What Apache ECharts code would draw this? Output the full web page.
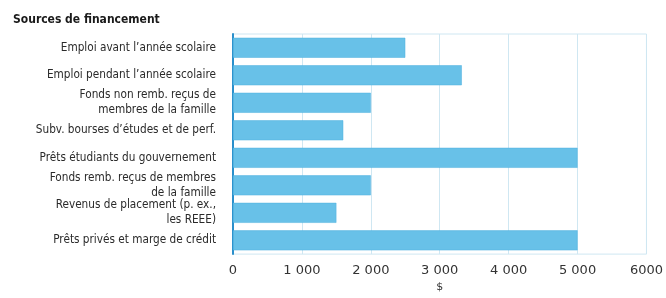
<!DOCTYPE html>
<html><head><meta charset="utf-8">
<script src="https://cdn.jsdelivr.net/npm/echarts@6/dist/echarts.min.js"></script>
<style>html,body{margin:0;padding:0;background:#fff}#c{width:666px;height:298px}</style>
</head><body><div id="c"></div>
<script>
const categories = [
  "Emploi avant l\u2019année scolaire",
  "Emploi pendant l\u2019année scolaire",
  "Fonds non remb. reçus de\nmembres de la famille",
  "Subv. bourses d\u2019études et de perf.",
  "Prêts étudiants du gouvernement",
  "Fonds remb. reçus de membres\nde la famille",
  "Revenus de placement (p. ex.,\nles REEE)",
  "Prêts privés et marge de crédit"
];
const values = [2500, 3320, 2000, 1600, 5000, 2000, 1500, 5000];
const tickLabels = ["0", "1 000", "2 000", "3 000", "4 000", "5 000", "6000"];
const title = "Sources de financement";
const axisName = "$";

const chart = echarts.init(document.getElementById('c'), null, {renderer: 'canvas'});
chart.setOption({
  animation: false,
  title: {
    text: title, left: 8, top: 9,
    textStyle: {fontFamily: 'DejaVu Sans Condensed', fontWeight: 'bold', fontSize: 12, color: '#1a1a1a'}
  },
  grid: {left: 233, right: 12, top: 34, bottom: 37, show: true, borderColor: '#cfe7f2', borderWidth: 1},
  xAxis: {
    type: 'value', min: 0, max: 6000, interval: 1000,
    name: axisName, nameLocation: 'middle', nameGap: 27,
    nameTextStyle: {fontFamily: 'DejaVu Sans', fontSize: 11, color: '#333'},
    axisLine: {show: false}, axisTick: {show: false},
    axisLabel: {fontFamily: 'DejaVu Sans', fontSize: 13, color: '#333', margin: 10,
      formatter: v => tickLabels[Math.round(v / 1000)]},
    splitLine: {show: true, lineStyle: {color: '#cfe7f2', width: 1}}
  },
  yAxis: {
    type: 'category', data: categories, inverse: true,
    axisLine: {show: true, lineStyle: {color: '#2a8fcb', width: 2}},
    axisTick: {show: false},
    axisLabel: {fontFamily: 'DejaVu Sans Condensed', fontSize: 11.7, color: '#2a2a2a', margin: 17, lineHeight: 15, align: 'right'}
  },
  series: [{
    type: 'bar', data: values, barWidth: 20,
    itemStyle: {color: '#68c1e8', borderColor: '#4fb0de', borderWidth: 0.5}
  }]
});
</script></body></html>
